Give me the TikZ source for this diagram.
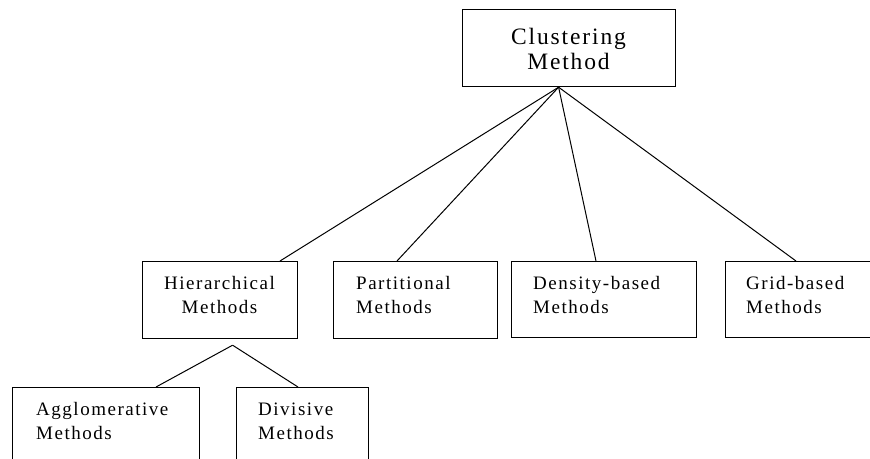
\documentclass[tikz,border=0pt]{standalone}
\usepackage{fontspec}
\setmainfont{Liberation Serif}[LetterSpace=8.0]
\begin{document}
\begin{tikzpicture}[x=1pt,y=-1pt,
  box/.style={draw,line width=1.2pt,rectangle,inner sep=0pt,anchor=north west},
  lbl/.style={inner sep=0pt,font=\fontsize{19}{24}\selectfont,align=left,anchor=base west},
  conn/.style={line width=1pt}]
\useasboundingbox (0,0) rectangle (870,458);
\clip (0,0) rectangle (870,458);
% boxes
\node[box,minimum width=213pt,minimum height=77pt] (top) at (462,9) {};
\node[box,minimum width=155pt,minimum height=77pt] (hier) at (142,261) {};
\node[box,minimum width=164pt,minimum height=77pt] (part) at (333,261) {};
\node[box,minimum width=185pt,minimum height=76pt] (dens) at (511,261) {};
\node[box,minimum width=200pt,minimum height=76pt] (grid) at (725,261) {};
\node[box,minimum width=187pt,minimum height=100pt] (agg) at (12,387) {};
\node[box,minimum width=132pt,minimum height=100pt] (div) at (236,387) {};
% texts (base anchor = baseline of the last line)
\node[inner sep=0pt,font=\fontsize{23.5}{25}\selectfont,align=center,anchor=base] (toptxt) at (568.5,69) {Clustering\\Method};
\node[lbl,align=center,anchor=base] (hiertxt) at (219.5,313) {Hierarchical\\Methods};
\node[lbl] (parttxt) at (356,313) {Partitional\\Methods};
\node[lbl] (denstxt) at (533,313) {Density-based\\Methods};
\node[lbl] (gridtxt) at (746,313) {Grid-based\\Methods};
\node[lbl] (aggtxt) at (36,439) {Agglomerative\\Methods};
\node[lbl] (divtxt) at (258,439) {Divisive\\Methods};
% connectors
\coordinate (apex) at ([xshift=-10.5pt]top.south);
\coordinate (apexb) at ([xshift=12.5pt,yshift=-6pt]hier.south);
\draw[conn] (apex) -- ([xshift=138pt]hier.north west);
\draw[conn] (apex) -- ([xshift=64pt]part.north west);
\draw[conn] (apex) -- ([xshift=85pt]dens.north west);
\draw[conn] (apex) -- ([xshift=71pt]grid.north west);
\draw[conn] (apexb) -- ([xshift=144pt]agg.north west);
\draw[conn] (apexb) -- ([xshift=62pt]div.north west);
\end{tikzpicture}
\end{document}
